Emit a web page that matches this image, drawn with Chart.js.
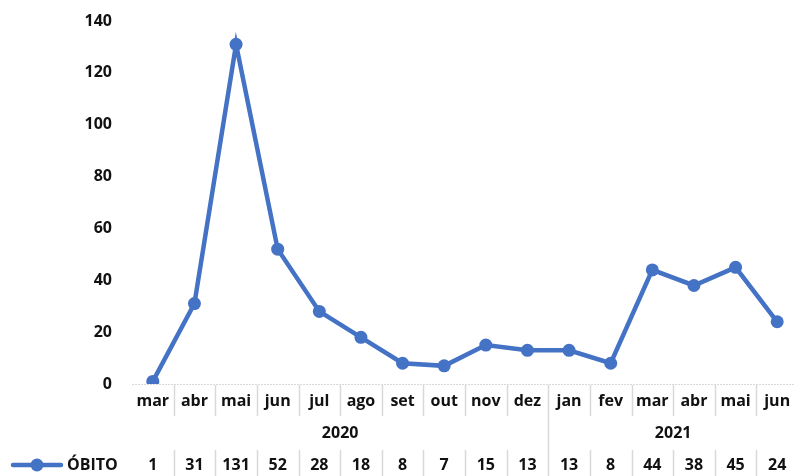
<!DOCTYPE html>
<html>
<head>
<meta charset="utf-8">
<script src="https://cdn.jsdelivr.net/npm/chart.js@4.4.1/dist/chart.umd.min.js"></script>
<style>
html,body{margin:0;padding:0;overflow:hidden;background:#fff;}
</style>
</head>
<body>
<canvas id="c" width="800" height="476" style="width:800px;height:476px"></canvas>
<script>
const months = ['mar','abr','mai','jun','jul','ago','set','out','nov','dez','jan','fev','mar','abr','mai','jun'];
const yearLabels = ['2020','2021'];
const yearCounts = [10, 6];
const seriesName = 'ÓBITO';
const obitos = [1,31,131,52,28,18,8,7,15,13,13,8,44,38,45,24];
const yTicks = [0,20,40,60,80,100,120,140];

const LINE = '#4472C4';
const SEP = '#d9d9d9';
const TXT = '#111111';
const FAMILY = '"Open Sans", "Liberation Sans", sans-serif';
const FONT = '700 16px ' + FAMILY;

const tablePlugin = {
  id: 'tablePlugin',
  afterDraw(chart) {
    const ctx = chart.ctx;
    const x = chart.scales.x;
    const a = chart.chartArea;
    const n = months.length;
    const px = i => x.getPixelForValue(i);
    const half = (px(1) - px(0)) / 2;
    ctx.save();
    ctx.strokeStyle = SEP;
    ctx.lineWidth = 1;
    ctx.setLineDash([2,1]);
    ctx.beginPath();
    ctx.moveTo(a.left, Math.round(a.bottom) + 0.5);
    ctx.lineTo(a.right, Math.round(a.bottom) + 0.5);
    ctx.stroke();
    ctx.setLineDash([]);
    const yearBoundaries = [];
    let acc = 0;
    for (let k = 0; k < yearCounts.length - 1; k++) { acc += yearCounts[k]; yearBoundaries.push(acc); }
    ctx.strokeStyle = SEP;
    ctx.lineWidth = 1.5;
    for (let i = 1; i < n; i++) {
      const bx = Math.round(px(i) - half) + 0.5;
      ctx.beginPath();
      if (yearBoundaries.includes(i)) {
        ctx.moveTo(bx, a.bottom + 1);
        ctx.lineTo(bx, 476);
      } else {
        ctx.moveTo(bx, a.bottom + 1);
        ctx.lineTo(bx, a.bottom + 32);
        ctx.moveTo(bx, 450);
        ctx.lineTo(bx, 476);
      }
      ctx.stroke();
    }
    ctx.fillStyle = TXT;
    ctx.font = FONT;
    ctx.textAlign = 'center';
    ctx.textBaseline = 'middle';
    for (let i = 0; i < n; i++) {
      ctx.fillText(months[i], px(i), 401);
      ctx.fillText(String(obitos[i]), px(i), 465);
    }
    let start = 0;
    for (let k = 0; k < yearLabels.length; k++) {
      const l = px(start) - half;
      const r = px(start + yearCounts[k] - 1) + half;
      ctx.fillText(yearLabels[k], (l + r) / 2, 433);
      start += yearCounts[k];
    }
    ctx.strokeStyle = LINE;
    ctx.lineWidth = 4.5;
    ctx.lineCap = 'round';
    ctx.beginPath();
    ctx.moveTo(13, 465);
    ctx.lineTo(61, 465);
    ctx.stroke();
    ctx.fillStyle = LINE;
    ctx.beginPath();
    ctx.arc(37, 465, 6.5, 0, Math.PI * 2);
    ctx.fill();
    ctx.fillStyle = TXT;
    ctx.textAlign = 'left';
    ctx.fillText(seriesName, 67, 465);
    ctx.restore();
  }
};

new Chart(document.getElementById('c'), {
  type: 'line',
  data: {
    labels: months.map((m, i) => i),
    datasets: [{
      label: seriesName,
      data: obitos,
      borderColor: LINE,
      backgroundColor: LINE,
      borderWidth: 4.5,
      pointRadius: 6.5,
      pointHoverRadius: 6.5,
      pointBackgroundColor: LINE,
      pointBorderWidth: 0,
      tension: 0,
      fill: false
    }]
  },
  options: {
    responsive: false,
    animation: false,
    events: [],
    layout: { autoPadding: false, padding: { top: 21, bottom: 92, right: 2, left: 0 } },
    plugins: { legend: { display: false }, tooltip: { enabled: false } },
    scales: {
      x: {
        type: 'category',
        display: false,
        offset: true
      },
      y: {
        min: 0, max: 140,
        afterBuildTicks(scale) { scale.ticks = yTicks.map(v => ({ value: v })); },
        afterFit(scale) { scale.width = 132; scale.paddingTop = 0; scale.paddingBottom = 0; },
        grid: { display: false, drawTicks: false },
        border: { display: false },
        ticks: {
          padding: 20,
          color: TXT,
          font: { family: FAMILY, size: 16, weight: '700' }
        }
      }
    }
  },
  plugins: [tablePlugin]
});
</script>
</body>
</html>
